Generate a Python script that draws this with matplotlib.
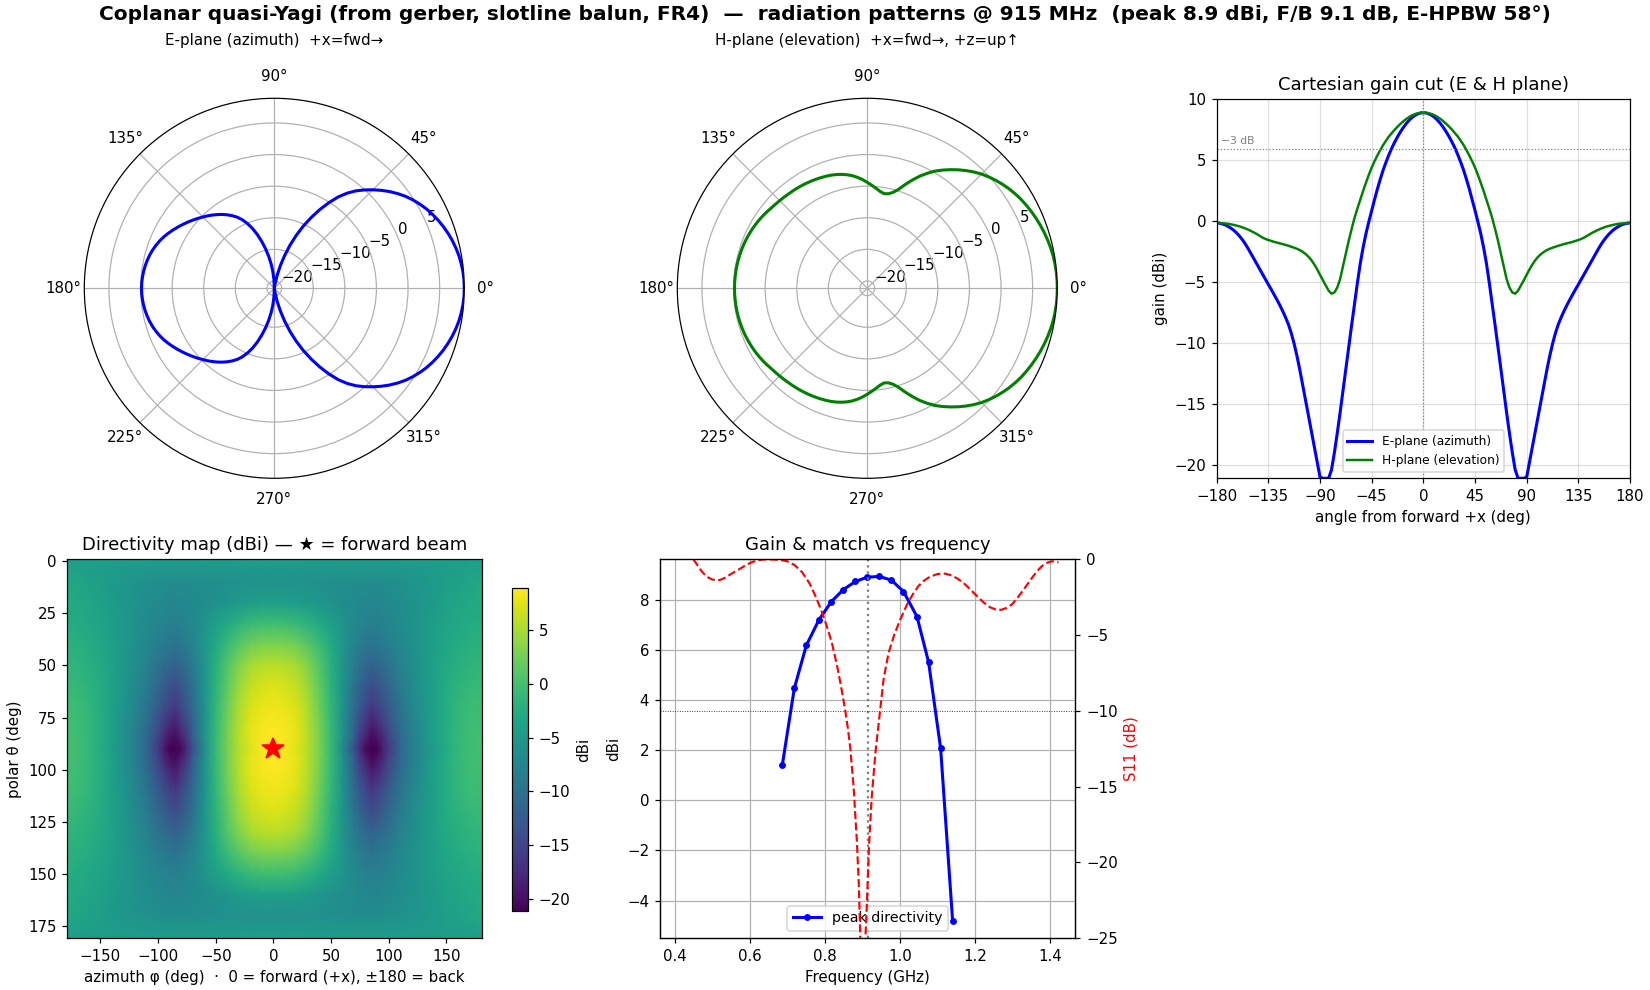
import numpy as np
import matplotlib
matplotlib.use("Agg")
import matplotlib.pyplot as plt

W, H = 1650, 990
plt.rcParams["font.size"] = 9.8
# ---- data ----
angle_half = np.arange(0, 180.1, 2.5)
e_half = [8.90, 8.88, 8.80, 8.67, 8.50, 8.27, 8.00, 7.68, 7.32, 6.92, 6.48, 6.00, 5.45, 4.85, 4.20, 3.45, 2.65, 1.78,
          0.88, -0.05, -1.03, -2.17, -3.50, -5.10, -6.80, -8.55, -10.30, -12.10, -13.90, -15.70, -17.40, -19.00,
          -20.40, -21.10, -21.10, -21.10, -21.00, -19.75, -18.50, -17.25, -16.00, -14.75, -13.50, -12.25, -11.10,
          -10.08, -9.20, -8.48, -7.90, -7.38, -6.90, -6.45, -6.02, -5.60, -5.20, -4.78, -4.36, -3.94, -3.52, -3.10,
          -2.68, -2.27, -1.88, -1.54, -1.24, -0.98, -0.76, -0.58, -0.43, -0.31, -0.23, -0.17, -0.15]
h_half = [8.90, 8.89, 8.85, 8.78, 8.68, 8.54, 8.38, 8.19, 7.98, 7.75, 7.50, 7.23, 6.95, 6.61, 6.25, 5.84, 5.40, 4.92,
          4.40, 3.80, 3.15, 2.47, 1.75, 1.02, 0.25, -0.65, -1.60, -2.65, -3.70, -4.75, -5.45, -5.85, -5.95, -5.70,
          -5.28, -4.85, -4.40, -3.95, -3.55, -3.20, -2.92, -2.70, -2.52, -2.38, -2.27, -2.18, -2.10, -2.02, -1.95,
          -1.88, -1.82, -1.76, -1.70, -1.62, -1.55, -1.46, -1.35, -1.21, -1.06, -0.93, -0.81, -0.70, -0.60, -0.51,
          -0.43, -0.37, -0.31, -0.26, -0.22, -0.19, -0.17, -0.155, -0.15]

peak_f = [0.687, 0.719, 0.751, 0.785, 0.818, 0.850, 0.882, 0.913, 0.946, 0.978, 1.010, 1.046, 1.077, 1.109, 1.141]
peak_d = [1.40, 4.46, 6.17, 7.20, 7.92, 8.40, 8.72, 8.89, 8.92, 8.77, 8.32, 7.32, 5.50, 2.07, -4.81]
s11_f = [0.45, 0.46, 0.47, 0.48, 0.49, 0.50, 0.51, 0.52, 0.53, 0.54, 0.55, 0.56, 0.57, 0.58, 0.59, 0.60, 0.61, 0.62,
         0.635, 0.65, 0.665, 0.68, 0.70, 0.72, 0.74, 0.76, 0.775, 0.79, 0.80, 0.81, 0.82, 0.832, 0.843, 0.855, 0.862,
         0.868, 0.877, 0.886, 0.891, 0.895, 0.901, 0.905, 0.912, 0.918, 0.925, 0.935, 0.948, 0.957, 0.97, 0.985, 1.0,
         1.02, 1.035, 1.05, 1.065, 1.08, 1.10, 1.117, 1.135, 1.153, 1.17, 1.188, 1.205, 1.224, 1.24, 1.255, 1.27,
         1.285, 1.3, 1.315, 1.33, 1.35, 1.367, 1.38, 1.393, 1.405, 1.415, 1.423]
s11_db = [0.0, -0.35, -0.72, -1.0, -1.2, -1.32, -1.38, -1.36, -1.27, -1.13, -0.97, -0.82, -0.68, -0.53, -0.38, -0.25,
          -0.15, -0.07, -0.01, 0.0, -0.01, -0.03, -0.12, -0.38, -0.85, -1.6, -2.4, -3.3, -4.0, -4.75, -5.6, -6.9, -8.3,
          -10.0, -11.2, -12.4, -15.0, -18.7, -21.5, -25.0, -29.0, -27.0, -23.0, -19.0, -15.8, -12.8, -9.9, -7.9, -6.2,
          -5.0, -4.05, -2.95, -2.3, -1.75, -1.4, -1.15, -0.97, -0.92, -1.03, -1.25, -1.55, -1.98, -2.4, -2.85, -3.15,
          -3.3, -3.33, -3.2, -2.95, -2.5, -2.0, -1.3, -0.75, -0.42, -0.22, -0.13, -0.13, -0.2]

map_phi = [0, 10, 20, 30, 40, 50, 60, 70, 75, 80, 85, 90, 95, 100, 110, 120, 130, 140, 150, 160, 170, 181]
map_theta = [-0.8, 10, 20, 30, 40, 50, 60, 70, 80, 85, 90]
row_00 = [-4.5] * 22
row_10 = [-6.0, -6.0, -6.0, -6.1, -6.2, -6.3, -6.4, -6.5, -6.5, -6.5, -6.5, -6.5, -6.4, -6.3, -6.0, -5.6, -5.2, -4.7, -4.3, -3.9, -3.5, -3.15]
row_20 = [-4.3, -4.3, -4.5, -4.9, -5.4, -6.0, -6.5, -6.8, -7.1, -7.2, -7.3, -7.3, -7.1, -6.9, -6.4, -5.8, -5.2, -4.6, -4.0, -3.5, -3.1, -2.8]
row_30 = [-0.4, -0.5, -0.9, -1.8, -3.0, -4.3, -5.6, -7.0, -7.4, -7.9, -8.1, -8.0, -7.7, -7.4, -6.7, -5.9, -5.1, -4.4, -3.7, -3.2, -2.8, -2.5]
row_40 = [3.0, 2.9, 2.3, 1.0, -0.8, -3.0, -5.3, -7.6, -8.5, -9.1, -9.5, -9.2, -8.8, -8.4, -7.2, -6.2, -5.1, -4.2, -3.4, -2.7, -2.2, -1.9]
row_50 = [5.85, 5.6, 4.8, 3.1, 0.7, -2.2, -5.4, -8.7, -10.0, -11.0, -11.5, -11.1, -10.5, -9.8, -7.8, -6.5, -5.2, -4.0, -3.0, -2.2, -1.7, -1.5]
row_60 = [7.3, 7.0, 6.2, 4.3, 1.5, -1.8, -5.6, -9.8, -11.5, -13.0, -14.0, -13.4, -12.3, -11.2, -8.6, -6.9, -5.3, -3.9, -2.7, -1.8, -1.1, -0.9]
row_70 = [8.15, 7.9, 7.1, 5.1, 2.1, -1.4, -5.8, -10.8, -12.8, -14.5, -16.0, -15.2, -13.9, -12.6, -9.5, -7.3, -5.5, -3.9, -2.5, -1.4, -0.7, -0.45]
row_80 = [8.75, 8.5, 7.65, 5.5, 2.5, -1.1, -5.8, -11.8, -15.0, -16.8, -19.0, -18.0, -16.2, -14.3, -10.5, -7.9, -5.9, -4.0, -2.4, -1.2, -0.5, -0.25]
row_85 = [8.85, 8.6, 7.75, 5.6, 2.6, -1.05, -6.1, -12.1, -16.4, -18.3, -20.3, -19.5, -17.8, -15.0, -11.1, -8.2, -6.05, -4.05, -2.4, -1.15, -0.45, -0.2]
row_90 = [8.9, 8.5, 7.32, 5.45, 2.65, -1.03, -6.8, -13.9, -17.4, -20.4, -21.1, -21.0, -18.5, -16.0, -11.1, -7.9, -6.02, -4.36, -2.68, -1.24, -0.43, -0.15]

title = "Coplanar quasi-Yagi (from gerber, slotline balun, FR4)  \u2014  radiation patterns @ 915 MHz  (peak 8.9 dBi, F/B 9.1 dB, E-HPBW 58\u00b0)"

# ---- helpers ----
fig = plt.figure(figsize=(15, 9), dpi=110)


def box(x0, y0, x1, y1):
    return [x0 / W, 1 - y1 / H, (x1 - x0) / W, (y1 - y0) / H]


ang = np.array(angle_half, float)
ang_full = np.r_[-ang[:0:-1], ang]
e_full = np.r_[np.array(e_half)[:0:-1], e_half]
h_full = np.r_[np.array(h_half)[:0:-1], h_half]

fig.suptitle(title, fontsize=13.2, fontweight="bold", x=0.5, y=0.9947, va="top")

# polar cuts
for cx, vals, col, ttl in [(274.3, e_full, "b", "E-plane (azimuth)  +x=fwd\u2192"),
                           (867.3, h_full, "g", "H-plane (elevation)  +x=fwd\u2192, +z=up\u2191")]:
    r = 190
    ax = fig.add_axes(box(cx - r, 288.3 - r, cx + r, 288.3 + r), projection="polar")
    ax.plot(np.deg2rad(ang_full), vals, color=col, lw=2)
    ax.set_ylim(-21.16, 8.9)
    ax.set_yticks([-20, -15, -10, -5, 0, 5])
    ax.set_title(ttl, fontsize=9.9, pad=35)

# cartesian
ax = fig.add_axes(box(1216.7, 99.3, 1630, 478.3))
ax.plot(ang_full, e_full, color="b", lw=2, label="E-plane (azimuth)")
ax.plot(ang_full, h_full, color="g", lw=1.6, label="H-plane (elevation)")
ax.axhline(5.9, color="gray", ls=":", lw=0.8)
ax.axvline(0, color="gray", ls=":", lw=0.8)
ax.text(-176, 6.35, "\u22123 dB", fontsize=7, color="gray")
ax.set_xlim(-180, 180)
ax.set_ylim(-21.1, 10)
ax.set_xticks(np.arange(-180, 181, 45))
ax.grid(alpha=0.4)
ax.set_xlabel("angle from forward +x (deg)")
ax.set_ylabel("gain (dBi)")
ax.set_title("Cartesian gain cut (E & H plane)", fontsize=11.75)
ax.legend(loc="lower center", fontsize=8)

# heat map
q = np.array([row_00, row_10, row_20, row_30, row_40, row_50, row_60, row_70, row_80, row_85, row_90])
q = np.vstack([q, q[-2::-1]])
grid = np.hstack([q[:, :0:-1], q])
phi_axis = np.array(map_phi, float)
phi_full = np.r_[-phi_axis[:0:-1], phi_axis]
theta_full = np.r_[map_theta, 180 - np.array(map_theta[-2::-1])]
ax = fig.add_axes(box(67.3, 559.4, 481.7, 938.2))
pc = ax.pcolormesh(phi_full, theta_full, grid, cmap="viridis", vmin=-21.1, vmax=8.9, shading="gouraud")
ax.set_xlim(-178.7, 180.6)
ax.set_ylim(180.8, -0.8)
ax.plot([0], [90], marker="*", color="r", ms=15)
ax.set_xlabel("azimuth \u03c6 (deg)  \u00b7  0 = forward (+x), \u00b1180 = back")
ax.set_ylabel("polar \u03b8 (deg)")
ax.set_title("Directivity map (dBi) \u2014 \u2605 = forward beam", fontsize=11.75)
cax = fig.add_axes(box(512, 588, 528, 911))
cb = fig.colorbar(pc, cax=cax, ticks=[5, 0, -5, -10, -15, -20])
cb.set_label("dBi")

# frequency
ax = fig.add_axes(box(660, 559.4, 1075.3, 938.2))
ax.plot(peak_f, peak_d, "b-o", lw=2, ms=3.5, label="peak directivity")
ax.axvline(0.915, color="gray", ls=":", lw=1.5)
ax.set_xlim(0.361, 1.468)
ax.set_ylim(-5.5, 9.6)
ax.grid(True)
ax.set_xlabel("Frequency (GHz)")
ax.set_ylabel("dBi")
ax.set_title("Gain & match vs frequency", fontsize=11.75)
ax.legend(loc="lower center", fontsize=9.3)
ax2 = ax.twinx()
ax2.plot(s11_f, s11_db, color="r", ls="--", lw=1.4)
ax2.axhline(-10, color="darkred", ls=":", lw=0.6)
ax2.set_ylim(-25, 0)
ax2.set_ylabel("S11 (dB)", color="r")

fig.savefig("out.png", dpi=110)
